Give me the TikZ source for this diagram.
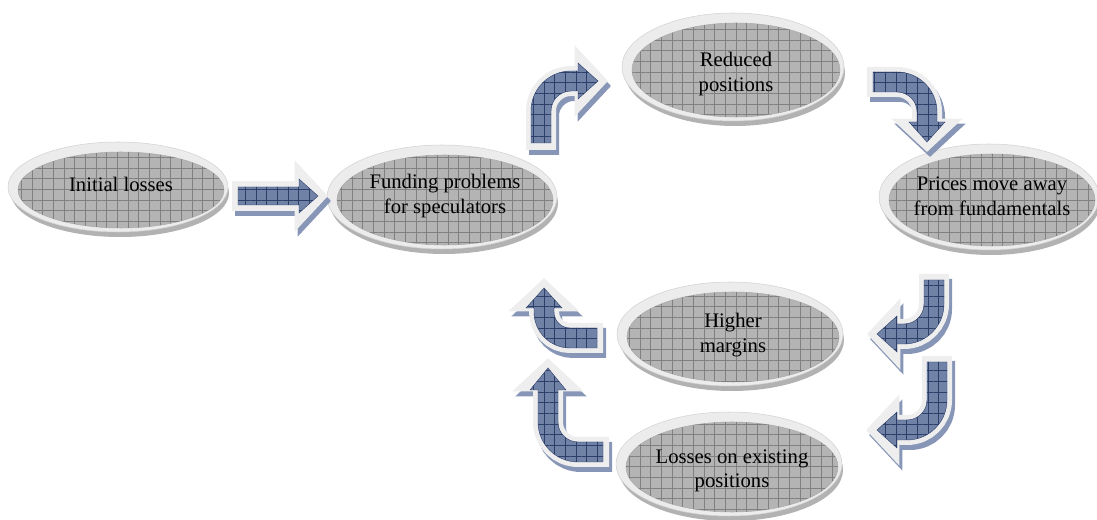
\documentclass[tikz,border=0pt]{standalone}
\usepackage{fontspec}
\setmainfont{Liberation Serif}
\usetikzlibrary{arrows.meta,patterns.meta,shapes.geometric}
\definecolor{abl}{RGB}{112,130,166}
\definecolor{agrid}{RGB}{45,62,105}
\definecolor{ashad}{RGB}{135,150,182}
\definecolor{alight}{RGB}{238,238,238}
\definecolor{efill}{RGB}{180,180,180}
\definecolor{egrid}{RGB}{128,128,128}
\definecolor{eringc}{RGB}{236,236,236}
\definecolor{eshad}{RGB}{178,178,178}
\tikzset{
 ablue/.style={fill=abl, draw=agrid, line width=0.3pt, postaction={pattern={Hatch[distance=8pt,angle=0,line width=0.45pt]}, pattern color=agrid}},
 alightst/.style={draw=alight, line width=22.5pt, -{Triangle[length=25pt,width=52pt]}},
 ashadst/.style={draw=ashad, line width=22.5pt, -{Triangle[length=25pt,width=52pt]}},
 eshadow/.style={ellipse, fill=eshad, inner sep=0},
 eringst/.style={ellipse, fill=eringc, draw=gray!35, line width=0.4pt, inner sep=0},
 einner/.style={ellipse, fill=efill, draw=gray!65, line width=0.4pt, inner sep=0, postaction={pattern={Hatch[distance=8pt,angle=0,line width=0.4pt]}, pattern color=egrid}},
 lbl/.style={font=\fontsize{15.5}{18.5}\selectfont, align=center, inner sep=0}
}
\newcommand\disc[7]{%
 \node[eshadow, minimum width={(#4+6)*1.5pt}, minimum height={(#5+6)*1.5pt}] (#1s) at (#2-1,#3+3) {};
 \node[eringst, minimum width={(#4+7)*1.5pt}, minimum height={(#5+7)*1.5pt}] (#1r) at (#2-3,#3-3) {};
 \node[einner, minimum width={#4*1.5pt}, minimum height={#5*1.5pt}] (#1e) at (#2,#3) {};
 \node[lbl] (#1) at (#2,#3+#6) {#7};
}
\begin{document}
\begin{tikzpicture}[x=0.75pt,y=-0.75pt]
\useasboundingbox (0,0) rectangle (1097,520);
% discs
\disc{n1}{121}{190}{103}{38}{-6}{Initial losses}
\disc{n2}{445}{200}{108}{45}{-4}{Funding problems\\for speculators}
\disc{n3}{736}{70}{104}{47}{4}{Reduced\\positions}
\disc{n4}{992}{200}{103}{46}{-4}{Prices move away\\from fundamentals}
\disc{n5}{733}{337}{106}{45}{-2}{Higher\\margins}
\disc{n6}{732}{467}{106}{45}{4}{Losses on existing\\positions}
% A1 straight
\draw[ashadst, shift={(3,5)}] (232,196) -- (328,196);
\draw[alightst] (232,196) -- (328,196);
\path[ablue] (238,187) -- (299,187) -- (299,179) -- (318,196) -- (299,213) -- (299,205) -- (238,205) -- cycle;
% A2 up-right
\draw[ashadst, shift={(3,5)}] (541,150) -- (541,111) .. controls (541,94.4) and (554.4,81) .. (571,81) -- (608,81);
\draw[alightst] (541,150) -- (541,111) .. controls (541,94.4) and (554.4,81) .. (571,81) -- (608,81);
\path[ablue] (531,143) -- (531,111) .. controls (531,88.9) and (548.9,71) .. (571,71) -- (578,71) -- (578,63) -- (598,81) -- (578,99) -- (578,91) -- (571,91) .. controls (560,91) and (551,100) .. (551,111) -- (551,143) -- cycle;
% A3 right-down
\draw[ashadst, shift={(3,5)}] (867,82) -- (897,82) .. controls (913.6,82) and (927,95.4) .. (927,112) -- (927,152);
\draw[alightst] (867,82) -- (897,82) .. controls (913.6,82) and (927,95.4) .. (927,112) -- (927,152);
\path[ablue] (873,72) -- (897,72) .. controls (919.1,72) and (937,89.9) .. (937,112) -- (937,122) -- (945,122) -- (927,142) -- (909,122) -- (917,122) -- (917,112) .. controls (917,101) and (908,92) .. (897,92) -- (873,92) -- cycle;
% A4 down-left (upper)
\draw[ashadst, shift={(3,5)}] (934,274) -- (934,304) .. controls (934,320.6) and (920.6,334) .. (904,334) -- (867,334);
\draw[alightst] (934,274) -- (934,304) .. controls (934,320.6) and (920.6,334) .. (904,334) -- (867,334);
\path[ablue] (944,280) -- (944,304) .. controls (944,326.1) and (926.1,344) .. (904,344) -- (897,344) -- (897,352) -- (877,334) -- (897,316) -- (897,324) -- (904,324) .. controls (915,324) and (924,315) .. (924,304) -- (924,280) -- cycle;
% A5 down-left (lower)
\draw[ashadst, shift={(3,5)}] (937,356) -- (937,400) .. controls (937,416.6) and (923.6,430) .. (907,430) -- (866,430);
\draw[alightst] (937,356) -- (937,400) .. controls (937,416.6) and (923.6,430) .. (907,430) -- (866,430);
\path[ablue] (947,362) -- (947,400) .. controls (947,422.1) and (929.1,440) .. (907,440) -- (897,440) -- (897,448) -- (877,430) -- (897,412) -- (897,420) -- (907,420) .. controls (918,420) and (927,411) .. (927,400) -- (927,362) -- cycle;
% A6 left-up (upper)
\draw[ashadst, shift={(3,5)}] (603,338) -- (570,338) .. controls (555.6,338) and (544,326.4) .. (544,312) -- (544,278);
\draw[alightst] (603,338) -- (570,338) .. controls (555.6,338) and (544,326.4) .. (544,312) -- (544,278);
\path[ablue] (597,348) -- (570,348) .. controls (550.1,348) and (534,331.9) .. (534,312) -- (534,308) -- (526,308) -- (544,288) -- (562,308) -- (554,308) -- (554,312) .. controls (554,320.8) and (561.2,328) .. (570,328) -- (597,328) -- cycle;
% A7 left-up (lower)
\draw[ashadst, shift={(3,5)}] (609,452) -- (578,452) .. controls (561.4,452) and (548,438.6) .. (548,422) -- (548,358);
\draw[alightst] (609,452) -- (578,452) .. controls (561.4,452) and (548,438.6) .. (548,422) -- (548,358);
\path[ablue] (603,462) -- (578,462) .. controls (555.9,462) and (538,444.1) .. (538,422) -- (538,390) -- (530,390) -- (548,368) -- (566,390) -- (558,390) -- (558,422) .. controls (558,433) and (567,442) .. (578,442) -- (603,442) -- cycle;
\end{tikzpicture}
\end{document}
